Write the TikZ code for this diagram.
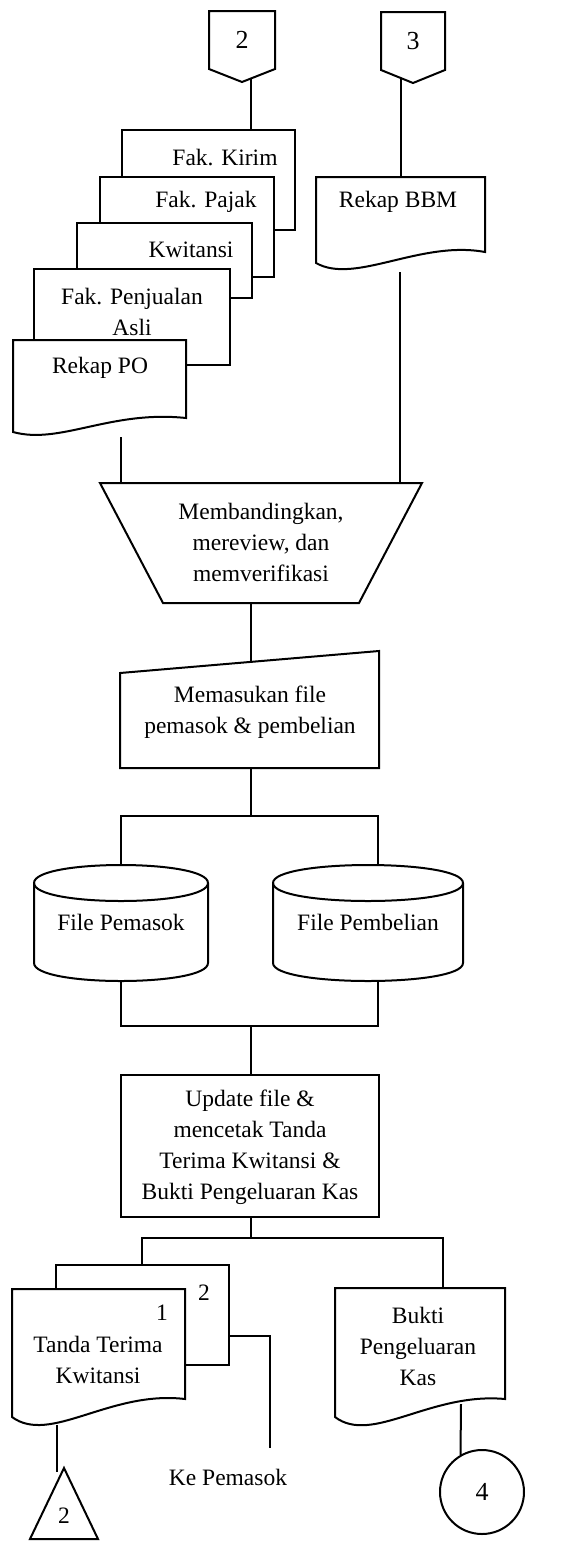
\documentclass[tikz,border=0pt]{standalone}
\usepackage{fontspec}
\setmainfont{Liberation Serif}
\begin{document}
\begin{tikzpicture}[x=1pt,y=-1pt,
  shp/.style={draw=black, line width=2pt, fill=white, line join=miter},
  ln/.style={draw=black, line width=2pt},
  lbl/.style={font=\fontsize{23.5}{31}\selectfont, align=center, inner sep=0pt},
  num/.style={font=\fontsize{26}{30}\selectfont, inner sep=0pt}]
\useasboundingbox (0,0) rectangle (583,1542);
\fill[white] (0,0) rectangle (583,1542);

% off-page connectors
\draw[shp] (209,11) -- (275,11) -- (275,69) -- (242,82) -- (209,69) -- cycle;
\node[num] (c2) at (242,40) {2};
\coordinate (c2b) at (251,79);
\draw[shp] (381,12) -- (445,12) -- (445,70) -- (413,83) -- (381,70) -- cycle;
\node[num] (c3) at (413,41) {3};
\coordinate (c3b) at (401,79);

% document stack
\draw[shp] (122,130) rectangle (295,230);
\node[lbl] (kirim) at (225,158) {Fak. Kirim};
\coordinate (kirimtop) at (251,130);
\draw[shp] (100,177) rectangle (274,277);
\node[lbl] (pajak) at (206,202) {Fak. Pajak};
\draw[shp] (77,223) rectangle (252,298);
\node[lbl] (kwit) at (191,250) {Kwitansi};
\draw[shp] (34,269) rectangle (230,365);
\node[lbl] (penj) at (132,312) {Fak. Penjualan\\Asli};
\draw[shp] (13,340) -- (186,340) -- (186,418) .. controls (110,410) and (60,445) .. (13,432) -- cycle;
\node[lbl] (rpo) at (100,368) {Rekap PO};
\coordinate (rpob) at (121,437);

\draw[ln] (c2b) -- (kirimtop);

% Rekap BBM
\draw[shp] (316,177) -- (485,177) -- (485,252) .. controls (420,240) and (355,285) .. (316,263) -- cycle;
\node[lbl] (bbm) at (398,202) {Rekap BBM};
\coordinate (bbmtop) at (401,177);
\coordinate (bbmb) at (400,272);
\draw[ln] (c3b) -- (bbmtop);

% compare (manual operation)
\draw[shp] (100,483) -- (422,483) -- (359,603) -- (163,603) -- cycle;
\node[lbl] (cmp) at (261,542) {Membandingkan,\\mereview, dan\\memverifikasi};
\coordinate (cmpl) at (121,483);
\coordinate (cmpr) at (400,483);
\coordinate (cmpb) at (251,603);
\draw[ln] (rpob) -- (cmpl);
\draw[ln] (bbmb) -- (cmpr);

% manual input
\draw[shp] (120,673) -- (379,651) -- (379,768) -- (120,768) -- cycle;
\node[lbl] (inp) at (250,712) {Memasukan file\\pemasok \& pembelian};
\coordinate (inpt) at (251,662);
\coordinate (inpb) at (251,768);
\draw[ln] (cmpb) -- (inpt);

% cylinders
\draw[shp] (34,883) -- (34,963) .. controls (34,987) and (208,987) .. (208,963) -- (208,883) .. controls (208,859) and (34,859) .. (34,883) -- cycle;
\draw[ln] (34,883) .. controls (34,907) and (208,907) .. (208,883);
\node[lbl] (fpm) at (121,922) {File Pemasok};
\draw[shp] (273,883) -- (273,963) .. controls (273,987) and (463,987) .. (463,963) -- (463,883) .. controls (463,859) and (273,859) .. (273,883) -- cycle;
\draw[ln] (273,883) .. controls (273,907) and (463,907) .. (463,883);
\node[lbl] (fpb) at (368,922) {File Pembelian};
\coordinate (fpmt) at (121,865);
\coordinate (fpbt) at (378,865);
\coordinate (fpmb) at (121,980);
\coordinate (fpbb) at (378,980);
\coordinate (j1) at (251,816);
\coordinate (j2) at (251,1026);

\draw[ln] (inpb) -- (j1);
\draw[ln] (fpmt) -- (fpmt |- j1) -- (fpbt |- j1) -- (fpbt);
\draw[ln] (fpmb) -- (fpmb |- j2) -- (fpbb |- j2) -- (fpbb);

% update
\draw[shp] (121,1075) rectangle (379,1217);
\node[lbl] (upd) at (250,1147) {Update file \&\\mencetak Tanda\\Terima Kwitansi \&\\Bukti Pengeluaran Kas};
\coordinate (updt) at (251,1075);
\coordinate (updb) at (251,1217);
\coordinate (j3) at (251,1238);
\draw[ln] (j2) -- (updt);
\draw[ln] (updb) -- (j3);

% output documents
\draw[shp] (56,1265) rectangle (229,1365);
\node[lbl] (n2) at (204,1293) {2};
\draw[shp] (12,1289) -- (185,1289) -- (185,1399) .. controls (110,1390) and (50,1445) .. (12,1417) -- cycle;
\node[lbl] (n1) at (162,1313) {1};
\node[lbl] (ttk) at (98,1360) {Tanda Terima\\Kwitansi};
\coordinate (d2t) at (142,1265);
\coordinate (d2r) at (229,1336);
\coordinate (ttkb) at (57,1425);

\draw[shp] (335,1288) -- (505,1288) -- (505,1399) .. controls (430,1392) and (372,1445) .. (335,1417) -- cycle;
\node[lbl] (bpk) at (418,1346) {Bukti\\Pengeluaran\\Kas};
\coordinate (bpkt) at (443,1288);
\coordinate (bpkb) at (461,1404);

\draw[ln] (d2t) -- (d2t |- j3) -- (bpkt |- j3) -- (bpkt);

% to supplier
\coordinate (kept) at (270,1448);
\draw[ln] (d2r) -- (kept |- d2r) -- (kept);
\node[lbl] (kep) at (228,1477) {Ke Pemasok};

% file triangle
\draw[shp] (64,1468) -- (98,1539) -- (30,1539) -- cycle;
\node[lbl] (t2) at (64,1516) {2};
\coordinate (t2top) at (57,1472);
\draw[ln] (ttkb) -- (t2top);

% on-page connector
\node[draw, line width=2pt, circle, minimum size=84pt, inner sep=0pt, num] (c4) at (482,1492) {4};
\draw[ln] (bpkb) -- (c4.120);
\end{tikzpicture}
\end{document}
